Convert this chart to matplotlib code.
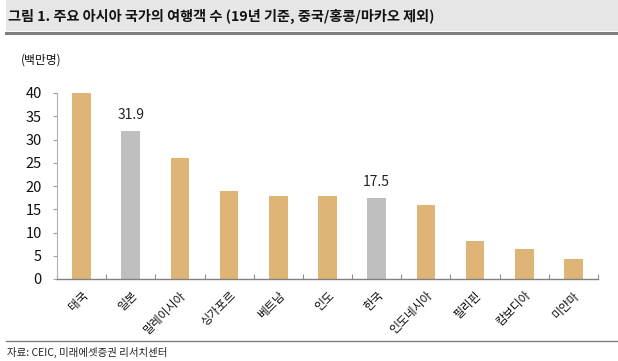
import matplotlib
matplotlib.use("Agg")
import matplotlib.pyplot as plt
from matplotlib.patches import Rectangle
from matplotlib.lines import Line2D
import numpy as np

plt.rcParams['font.family'] = ['Noto Sans CJK KR', 'DejaVu Sans']

countries = ['태국', '일본', '말레이시아', '싱가포르', '베트남', '인도', '한국',
             '인도네시아', '필리핀', '캄보디아', '미얀마']
travelers = [39.9, 31.9, 26.0, 19.0, 17.9, 17.8, 17.5, 15.9, 8.1, 6.5, 4.3]
highlight = ['일본', '한국']
yticks = [0, 5, 10, 15, 20, 25, 30, 35, 40]

title = '그림 1. 주요 아시아 국가의 여행객 수 (19년 기준, 중국/홍콩/마카오 제외)'
unit = '(백만명)'
source = '자료: CEIC, 미래에셋증권 리서치센터'

tan = '#DFB577'
gray = '#BFBFBF'

W, H = 618, 361
fig = plt.figure(figsize=(W / 100, H / 100), dpi=100)

# title band
fig.patches.append(Rectangle((6 / W, 1 - 31 / H), 1 - 6 / W, 31 / H,
                             transform=fig.transFigure, facecolor='#E6E6E6',
                             edgecolor='none', zorder=0))
fig.lines.append(Line2D([6 / W, 1], [1 - 32.5 / H] * 2, transform=fig.transFigure,
                        color='#7F7F7F', lw=2.2))
fig.text(8 / W, 1 - 16 / H, title, fontsize=10.2, fontweight='bold',
         va='center', ha='left', color='#111111')

# footer
fig.lines.append(Line2D([6 / W, 1], [1 - 341 / H] * 2, transform=fig.transFigure,
                        color='#7F7F7F', lw=1.0))
fig.text(7 / W, 1 - 352 / H, source, fontsize=7.5, va='center', ha='left',
         color='#222222')

left, right, bottom, top = 57, 598, 279, 93
ax = fig.add_axes([left / W, 1 - bottom / H, (right - left) / W, (bottom - top) / H])

x = np.arange(len(countries))
colors = [gray if c in highlight else tan for c in countries]
ax.bar(x, travelers, width=0.38, color=colors, edgecolor='none', zorder=2)

for xi, c, v in zip(x, countries, travelers):
    if c in highlight:
        ax.annotate(f'{v:.1f}', (xi, v), xytext=(0, 6), textcoords='offset points',
                    ha='center', va='bottom', fontsize=10, color='#222222')

ax.set_xlim(-0.5, len(countries) - 0.5)
ax.set_ylim(0, 40)
ax.set_yticks(yticks)
ax.set_yticklabels([str(t) for t in yticks], fontsize=10.5, color='#111111')
ax.tick_params(axis='y', direction='out', length=3, width=0.8, color='#A0A0A0', pad=8)

ax.set_xticks(x)
ax.set_xticklabels(countries, rotation=45, ha='right', rotation_mode='anchor',
                   fontsize=8.5, color='#111111')
ax.tick_params(axis='x', which='major', length=0, pad=7)
ax.set_xticks(np.arange(len(countries) + 1) - 0.5, minor=True)
ax.tick_params(axis='x', which='minor', direction='in', length=3.5, width=0.8,
               color='#909090')

for s in ['top', 'right']:
    ax.spines[s].set_visible(False)
ax.spines['left'].set_color('#B0B0B0')
ax.spines['left'].set_linewidth(0.8)
ax.spines['bottom'].set_color('#808080')
ax.spines['bottom'].set_linewidth(1.0)

fig.text(21 / W, 1 - 60 / H, unit, fontsize=8.5, va='center', ha='left', color='#111111')

fig.savefig('out.png', dpi=100)
